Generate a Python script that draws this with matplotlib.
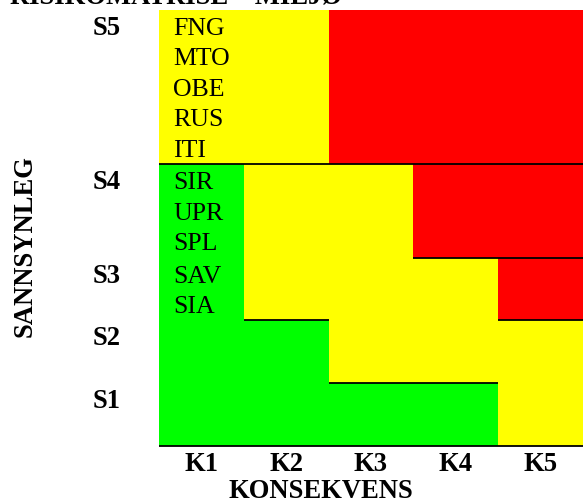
import matplotlib
matplotlib.use("Agg")
import matplotlib.pyplot as plt
from matplotlib.patches import Rectangle
from matplotlib.transforms import blended_transform_factory

# ---------------------------------------------------------------
# Data: risk matrix (rows S5..S1, columns K1..K5)
# ---------------------------------------------------------------
title = "RISIKOMATRISE – MILJØ"
x_title = "KONSEKVENS"
y_title = "SANNSYNLEG"

cols = ["K1", "K2", "K3", "K4", "K5"]
rows = ["S5", "S4", "S3", "S2", "S1"]

# G = green, Y = yellow, R = red
cell_colors = [
    ["Y", "Y", "R", "R", "R"],   # S5
    ["G", "Y", "Y", "R", "R"],   # S4
    ["G", "Y", "Y", "Y", "R"],   # S3
    ["G", "G", "Y", "Y", "Y"],   # S2
    ["G", "G", "G", "G", "Y"],   # S1
]

# items listed in the K1 column of each row
row_items = [
    ["FNG", "MTO", "OBE", "RUS", "ITI"],
    ["SIR", "UPR", "SPL"],
    ["SAV", "SIA"],
    [],
    [],
]

# columns with a black line under each row
bottom_borders = [
    ["K1", "K2", "K3", "K4", "K5"],
    ["K4", "K5"],
    ["K2", "K5"],
    ["K3", "K4"],
    ["K1", "K2", "K3", "K4", "K5"],
]

COLORS = {"G": "#00ff00", "Y": "#ffff00", "R": "#ff0000"}

plt.rcParams["font.family"] = ["Liberation Serif", "DejaVu Serif"]

W, H = 583, 503
fig = plt.figure(figsize=(W / 100, H / 100), dpi=100)

# axes placed in pixel terms
left_px, right_px, top_px, bottom_px = 159, 583, 10, 446
ax = fig.add_axes([left_px / W, 1 - bottom_px / H,
                   (right_px - left_px) / W, (bottom_px - top_px) / H])

LINE = 30.6   # text line height (px)
PAD = 1.8
heights = [max(len(it), 2) * LINE + PAD for it in row_items]
total = sum(heights)

ax.set_xlim(0, len(cols))
ax.set_ylim(total, 0)
ax.axis("off")

col_px = (right_px - left_px) / len(cols)
tops = []
y = 0
for h in heights:
    tops.append(y)
    y += h

for r, row in enumerate(rows):
    y0 = tops[r]
    h = heights[r]
    for c, col in enumerate(cols):
        ax.add_patch(Rectangle((c, y0), 1, h, facecolor=COLORS[cell_colors[r][c]],
                               edgecolor="none", zorder=1))
    # bottom borders
    for col in bottom_borders[r]:
        c = cols.index(col)
        ax.plot([c, c + 1], [y0 + h, y0 + h], color="black", lw=1.3,
                solid_capstyle="butt", zorder=3, clip_on=False)
    # items in the K1 cell
    for i, item in enumerate(row_items[r]):
        ax.text(14 / col_px, y0 + 25 + i * LINE, item, fontsize=18.6,
                va="baseline", ha="left", zorder=4)

BOLD = 19.2

# row labels (S5..S1)
trans = blended_transform_factory(ax.transAxes, ax.transData)
for r, row in enumerate(rows):
    ax.text((107 - left_px) / (right_px - left_px), tops[r] + 25, row,
            transform=trans, fontsize=BOLD, fontweight="bold",
            ha="center", va="baseline", clip_on=False)

# column labels (K1..K5)
for c, col in enumerate(cols):
    fig.text((left_px + (c + 0.5) * col_px) / W, 1 - 471 / H, col,
             fontsize=BOLD, fontweight="bold", ha="center", va="baseline")

fig.text(321 / W, 1 - 497.5 / H, x_title, fontsize=BOLD, fontweight="bold",
         ha="center", va="baseline")
fig.text(25 / W, 1 - 246 / H, y_title, fontsize=BOLD, fontweight="bold",
         ha="center", va="center", rotation=90)
# title sits mostly above the top edge, as in the reference
fig.text(10 / W, 1 - 4 / H, title, fontsize=BOLD, fontweight="bold",
         ha="left", va="baseline")

fig.savefig("out.png", dpi=100)
